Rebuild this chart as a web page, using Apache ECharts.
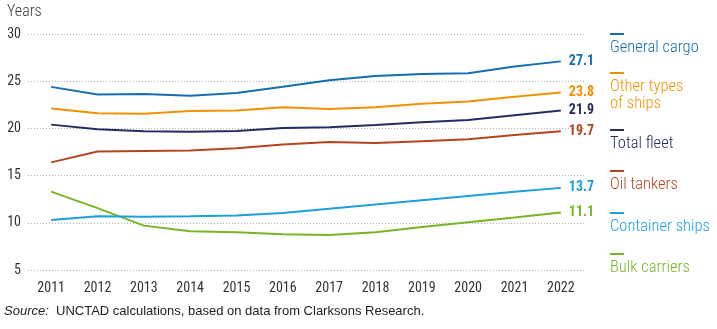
<!DOCTYPE html>
<html>
<head>
<meta charset="utf-8">
<script src="https://cdn.jsdelivr.net/npm/echarts@6/dist/echarts.min.js"></script>
<style>
html,body{margin:0;padding:0;background:#fff;}
#chart{width:717px;height:329px;}
</style>
</head>
<body>
<div id="chart"></div>
<script>
var years = ['2011','2012','2013','2014','2015','2016','2017','2018','2019','2020','2021','2022'];
var yTicks = [5, 10, 15, 20, 25, 30];

var generalCargo   = [24.4, 23.6, 23.65, 23.45, 23.75, 24.4, 25.1, 25.55, 25.75, 25.85, 26.55, 27.1];
var otherTypes     = [22.1, 21.6, 21.55, 21.85, 21.9, 22.25, 22.05, 22.25, 22.6, 22.85, 23.35, 23.8];
var totalFleet     = [20.4, 19.9, 19.7, 19.65, 19.72, 20.05, 20.12, 20.35, 20.65, 20.9, 21.4, 21.9];
var oilTankers     = [16.4, 17.55, 17.6, 17.65, 17.9, 18.3, 18.55, 18.45, 18.65, 18.85, 19.3, 19.7];
var containerShips = [10.3, 10.7, 10.65, 10.7, 10.77, 11.05, 11.5, 11.95, 12.4, 12.85, 13.3, 13.7];
var bulkCarriers   = [13.3, 11.55, 9.7, 9.1, 9.0, 8.8, 8.7, 9.0, 9.55, 10.05, 10.55, 11.1];

var seriesNames = ['General cargo', 'Other types\nof ships', 'Total fleet', 'Oil tankers', 'Container ships', 'Bulk carriers'];
var seriesData = [generalCargo, otherTypes, totalFleet, oilTankers, containerShips, bulkCarriers];

var colors = ['#166eaf', '#f39200', '#232d5f', '#b4461f', '#1e9fdc', '#78b428'];
var legendMarkerY = [34, 73, 130, 171, 213, 254];

var fam = '"Roboto Condensed", Roboto, sans-serif';

var series = seriesData.map(function (d, i) {
  return {
    name: seriesNames[i],
    type: 'line',
    data: d,
    symbol: 'none',
    smooth: false,
    lineStyle: { color: colors[i], width: 2 },
    itemStyle: { color: colors[i] },
    z: 10 - i,
    endLabel: {
      show: true,
      distance: 8,
      formatter: function (p) { return Number(p.value).toFixed(1); },
      color: colors[i],
      fontFamily: fam,
      fontWeight: 'bold',
      fontSize: 14
    },
    emphasis: { disabled: true }
  };
});

var graphics = [
  { type: 'text', left: 7, top: 4, style: { text: 'Years', fill: '#3a3a3a', font: '300 16px ' + fam } },
  { type: 'text', left: 4, top: 305, style: {
      text: '{i|Source:}  UNCTAD calculations, based on data from Clarksons Research.',
      fill: '#222', font: '13px "Liberation Sans", Arial, sans-serif',
      rich: { i: { fontStyle: 'italic', fontFamily: '"Liberation Sans", Arial, sans-serif', fontSize: 13, fill: '#222' } }
  } }
];
seriesNames.forEach(function (n, i) {
  var y = legendMarkerY[i];
  graphics.push({ type: 'line', shape: { x1: 610, y1: y, x2: 624, y2: y }, style: { stroke: colors[i], lineWidth: 2 } });
  graphics.push({ type: 'text', x: 610, y: y + 5, style: {
    text: n, fill: colors[i], font: '300 16.5px ' + fam, lineHeight: 17, verticalAlign: 'top', textAlign: 'left'
  } });
});

var chart = echarts.init(document.getElementById('chart'), null, { renderer: 'canvas' });
chart.setOption({
  animation: false,
  grid: { left: 28, right: 133, top: 34, bottom: 59 },
  xAxis: {
    type: 'category',
    data: years,
    boundaryGap: true,
    axisLine: { show: false },
    axisTick: { show: false },
    axisLabel: { color: '#333', fontFamily: fam, fontSize: 14, margin: 11 }
  },
  yAxis: {
    type: 'value',
    min: yTicks[0],
    max: yTicks[yTicks.length - 1],
    interval: 5,
    axisLine: { show: false },
    axisTick: { show: false },
    axisLabel: { color: '#333', fontFamily: fam, fontSize: 14, margin: 7 },
    splitLine: { show: true, lineStyle: { color: '#b0b0b0', type: [1, 2], width: 1 } }
  },
  series: series,
  graphic: graphics
});
</script>
</body>
</html>
